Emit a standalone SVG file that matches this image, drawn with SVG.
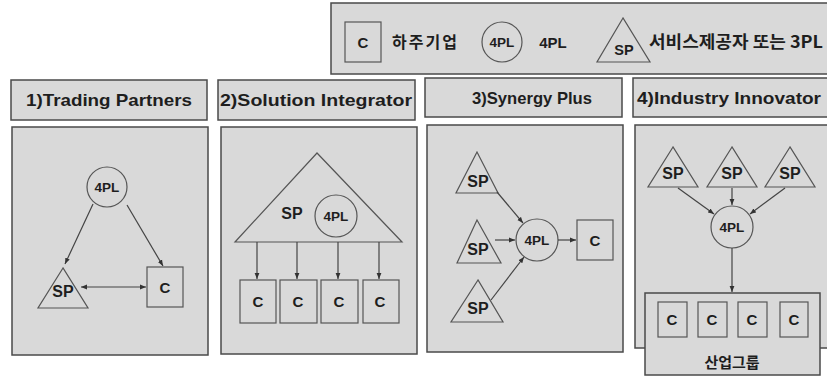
<svg xmlns="http://www.w3.org/2000/svg" width="827" height="376" viewBox="0 0 827 376">
<style>
.box{fill:#d9d9d9;stroke:#4a4a4a;stroke-width:1.5}
.shp{fill:#d9d9d9;stroke:#555;stroke-width:1.2}
.t{font-family:"Liberation Sans",Arial,sans-serif;font-weight:bold;fill:#1e1e1e;text-anchor:middle}
.k{font-family:"Noto Sans CJK KR","Liberation Sans",sans-serif;font-weight:bold;fill:#1e1e1e}
.ttl{font-size:16.5px}
.lb{font-size:15px}
.pl{font-size:13.5px}
.sp{font-size:16px}
.c{stroke:#444;stroke-width:1.2;fill:none;marker-end:url(#ah)}
</style>
<defs>
<marker id="ah" viewBox="0 0 10 10" refX="10" refY="5" markerWidth="5" markerHeight="5" orient="auto-start-reverse"><path d="M0,1 L10,5 L0,9 z" fill="#333"/></marker>
</defs>
<rect width="827" height="376" fill="#fff"/>

<g id="legend">
<rect class="box" x="331" y="3" width="500" height="71"/>
<rect class="shp" x="345" y="22" width="36" height="40"/>
<text class="t lb" x="363" y="48">C</text>
<text class="k" x="392" y="48" font-size="16" textLength="65" lengthAdjust="spacing">하주기업</text>
<circle class="shp" cx="502" cy="42" r="20"/>
<text class="t pl" x="502" y="47">4PL</text>
<text class="t" x="553" y="48" font-size="15">4PL</text>
<polygon class="shp" points="623,18 597,62 650,62"/>
<text class="t" x="624" y="55" font-size="14.5">SP</text>
<text class="k" x="649" y="48" font-size="17" textLength="174" lengthAdjust="spacingAndGlyphs">서비스제공자 또는 3PL</text>
</g>

<g id="title1"><rect class="box" x="11" y="80" width="196" height="40"/><text class="t ttl" x="109" y="106" textLength="166" lengthAdjust="spacingAndGlyphs">1)Trading Partners</text></g>
<g id="title2"><rect class="box" x="218" y="80" width="197" height="40"/><text class="t ttl" x="316" y="106" textLength="192" lengthAdjust="spacingAndGlyphs">2)Solution Integrator</text></g>
<g id="title3"><rect class="box" x="425" y="78" width="197" height="39"/><text class="t ttl" x="532" y="104" textLength="120" lengthAdjust="spacingAndGlyphs">3)Synergy Plus</text></g>
<g id="title4"><rect class="box" x="633" y="78" width="200" height="39"/><text class="t ttl" x="729" y="104" textLength="184" lengthAdjust="spacingAndGlyphs">4)Industry Innovator</text></g>

<g id="panel1"><rect class="box" x="12" y="127" width="196" height="228"/></g>
<g id="panel2"><rect class="box" x="221" y="127" width="196" height="227"/></g>
<g id="panel3"><rect class="box" x="427" y="125" width="196" height="227"/></g>
<g id="panel4"><rect class="box" x="635" y="125" width="200" height="223"/></g>

<!-- panel 1 nodes -->
<g id="p1-4pl"><circle class="shp" cx="107" cy="187" r="20"/><text class="t pl" x="107" y="192">4PL</text></g>
<g id="p1-sp"><polygon class="shp" points="63,268 38,308 88,308"/><text class="t sp" x="63" y="297">SP</text></g>
<g id="p1-c"><rect class="shp" x="147" y="267" width="36" height="40"/><text class="t lb" x="165" y="293">C</text></g>

<!-- panel 2 nodes -->
<g id="p2-sp"><polygon class="shp" points="317,153 235,242 402,242"/><text class="t sp" x="292" y="219">SP</text></g>
<g id="p2-4pl"><circle class="shp" cx="336" cy="216" r="21"/><text class="t pl" x="336" y="221">4PL</text></g>
<g id="p2-c1"><rect class="shp" x="240" y="280" width="36" height="43"/><text class="t lb" x="258" y="307">C</text></g>
<g id="p2-c2"><rect class="shp" x="280" y="280" width="37" height="43"/><text class="t lb" x="298" y="307">C</text></g>
<g id="p2-c3"><rect class="shp" x="321" y="280" width="37" height="43"/><text class="t lb" x="339" y="307">C</text></g>
<g id="p2-c4"><rect class="shp" x="363" y="280" width="36" height="43"/><text class="t lb" x="380" y="307">C</text></g>

<!-- panel 3 nodes -->
<g id="p3-sp1"><polygon class="shp" points="477,152 456,193 498,193"/><text class="t sp" x="478" y="187">SP</text></g>
<g id="p3-sp2"><polygon class="shp" points="477,220 457,263 501,263"/><text class="t sp" x="478" y="255">SP</text></g>
<g id="p3-sp3"><polygon class="shp" points="478,280 451,322 503,322"/><text class="t sp" x="478" y="314">SP</text></g>
<g id="p3-4pl"><circle class="shp" cx="537" cy="240" r="21"/><text class="t pl" x="537" y="245">4PL</text></g>
<g id="p3-c"><rect class="shp" x="577" y="220" width="36" height="40"/><text class="t lb" x="595" y="246">C</text></g>

<!-- panel 4 nodes -->
<g id="p4-sp1"><polygon class="shp" points="673,147 648,187 698,187"/><text class="t sp" x="673" y="179">SP</text></g>
<g id="p4-sp2"><polygon class="shp" points="732,147 707,187 757,187"/><text class="t sp" x="732" y="179">SP</text></g>
<g id="p4-sp3"><polygon class="shp" points="790,147 765,187 815,187"/><text class="t sp" x="790" y="179">SP</text></g>
<g id="p4-4pl"><circle class="shp" cx="732" cy="227" r="21"/><text class="t pl" x="732" y="232">4PL</text></g>
<g id="p4-group">
<rect class="box" x="645" y="293" width="175" height="82"/>
<rect class="shp" x="658" y="302" width="29" height="35"/><text class="t lb" x="672" y="325">C</text>
<rect class="shp" x="698" y="302" width="29" height="35"/><text class="t lb" x="712" y="325">C</text>
<rect class="shp" x="738" y="302" width="29" height="35"/><text class="t lb" x="752" y="325">C</text>
<rect class="shp" x="780" y="302" width="28" height="35"/><text class="t lb" x="794" y="325">C</text>
<text class="k" x="732" y="368" font-size="15" text-anchor="middle">산업그룹</text>
</g>

<g id="connectors">
<line class="c" x1="93" y1="204" x2="65" y2="264"/>
<line class="c" x1="127" y1="205" x2="163" y2="266"/>
<line class="c" x1="81" y1="287" x2="146" y2="287" style="marker-start:url(#ah)"/>
<line class="c" x1="257" y1="242" x2="257" y2="279"/>
<line class="c" x1="297" y1="242" x2="297" y2="279"/>
<line class="c" x1="338" y1="242" x2="338" y2="279"/>
<line class="c" x1="379" y1="242" x2="379" y2="279"/>
<line class="c" x1="497" y1="192" x2="523" y2="223"/>
<line class="c" x1="495" y1="240" x2="515" y2="240"/>
<line class="c" x1="491" y1="300" x2="524" y2="257"/>
<line class="c" x1="558" y1="240" x2="576" y2="240"/>
<line class="c" x1="678" y1="188" x2="714" y2="214"/>
<line class="c" x1="732" y1="188" x2="732" y2="205"/>
<line class="c" x1="785" y1="188" x2="750" y2="214"/>
<line class="c" x1="732" y1="248" x2="732" y2="292"/>
</g>
</svg>
